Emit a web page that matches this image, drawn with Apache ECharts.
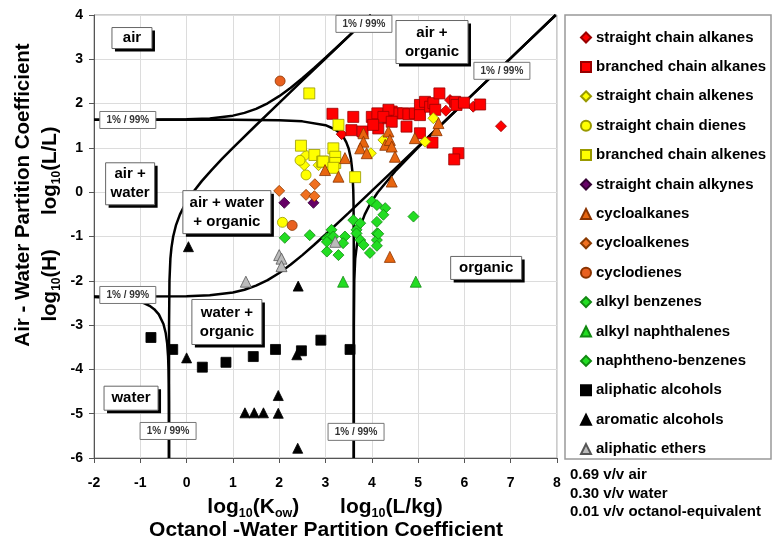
<!DOCTYPE html>
<html><head><meta charset="utf-8">
<script src="https://cdn.jsdelivr.net/npm/echarts@6/dist/echarts.min.js"></script>
<style>html,body{margin:0;padding:0;background:#fff}#c{width:775px;height:542px}</style>
</head><body><div id="c"></div>
<script>
// ---------------- data (x = log10 Kow, y = log10 H) ----------------
const xTicks = [-2,-1,0,1,2,3,4,5,6,7,8];
const yTicks = [-6,-5,-4,-3,-2,-1,0,1,2,3,4];

const straightAlkanes = [[3.35,1.31],[5.60,1.84],[5.69,2.08],[6.19,1.93],[6.79,1.49]];
const branchedAlkanes = [[3.15,1.77],[3.60,1.70],[3.56,1.40],[3.80,1.37],[4.00,1.70],[4.12,1.78],[4.14,1.44],
  [4.36,1.67],[4.43,1.82],[4.54,1.78],[4.68,1.78],[4.79,1.76],[4.75,1.48],[4.93,1.78],[5.04,1.97],[5.04,1.74],
  [5.15,2.04],[5.26,1.93],[5.33,2.01],[5.37,1.86],[5.46,2.23],[5.80,2.04],[5.83,1.97],[5.99,2.02],[6.34,1.98],
  [5.04,1.33],[5.31,1.12],[5.87,0.88],[5.78,0.74],[4.36,1.86],[4.25,1.70],[4.43,1.59],[4.03,1.52]];
const straightAlkenes = [[2.58,0.84],[2.54,0.61],[2.85,0.61],[3.98,0.88],[4.25,1.18],[5.15,1.14],[5.33,1.67]];
const straightDienes = [[2.58,0.39],[2.07,-0.68],[2.45,0.72]];
const branchedAlkenes = [[2.65,2.23],[2.47,1.05],[2.76,0.84],[2.93,0.69],[3.28,1.52],[3.17,0.99],[3.21,0.80],
  [3.21,0.66],[2.95,0.69],[3.17,0.55],[3.64,0.34]];
const straightAlkynes = [[2.11,-0.24],[2.74,-0.24]];
const cycloalkanes = [[2.99,0.50],[3.28,0.35],[3.42,0.77],[3.82,1.33],[3.82,1.14],[3.75,0.99],[3.89,0.88],
  [4.36,1.37],[4.29,1.07],[4.39,1.18],[4.43,1.03],[4.50,0.80],[4.93,1.22],[5.40,1.40],[5.44,1.56],[4.43,0.24],[4.39,-1.46]];
const cycloalkenes = [[2.00,0.03],[2.58,-0.06],[2.76,-0.09],[2.77,0.18]];
const cyclodienes = [[2.02,2.51],[2.28,-0.75]];
const alkylBenzenes = [[2.12,-1.03],[2.66,-0.97],[3.03,-1.04],[3.03,-1.34],[3.10,-1.00],[3.13,-0.85],[3.17,-1.00],
  [3.03,-1.12],[3.28,-1.42],[3.42,-1.00],[3.38,-1.15],[3.67,-0.85],[3.67,-0.93],[3.75,-1.08],[3.82,-1.19],
  [4.00,-0.21],[4.11,-0.29],[4.29,-0.36],[4.11,-0.67],[4.11,-0.93],[4.11,-1.08],[4.14,-0.94],[4.90,-0.55]];
const alkylNaphthalenes = [[3.38,-2.02],[4.95,-2.02]];
const napthenoBenzenes = [[3.60,-0.63],[3.75,-0.70],[4.25,-0.51],[4.11,-1.21],[3.96,-1.37]];
const aliphaticAlcohols = [[-0.77,-3.28],[-0.30,-3.55],[0.34,-3.95],[0.85,-3.84],[1.44,-3.71],[1.92,-3.55],
  [2.48,-3.58],[2.90,-3.34],[3.53,-3.55]];
const aromaticAlcohols = [[0.04,-1.23],[0.00,-3.74],[1.26,-4.98],[1.46,-4.98],[1.66,-4.98],[1.98,-4.59],
  [1.98,-4.99],[2.40,-5.78],[2.41,-2.12],[2.38,-3.67]];
const aliphaticEthers = [[1.28,-2.02],[2.00,-1.42],[2.05,-1.50],[2.05,-1.67],[3.21,-1.12]];

// 1% / 99% boundary curves
const airHigh = [[-2,1.634],[-1,1.635],[0,1.644],[0.5,1.666],[1,1.728],[1.25,1.790],[1.5,1.881],[1.75,2.007],
  [2,2.168],[2.25,2.359],[2.5,2.572],[2.75,2.799],[3,3.036],[3.25,3.278],[3.5,3.524],[3.75,3.772],[3.98,4.0]];
const airLow = [[-2,-2.357],[0,-2.347],[0.5,-2.325],[1,-2.263],[1.25,-2.202],[1.5,-2.110],[1.75,-1.984],
  [2,-1.823],[2.25,-1.632],[2.5,-1.420],[2.75,-1.192],[3,-0.955],[3.5,-0.467],[4,0.029],[4.5,0.528],
  [5,1.027],[6,2.027],[7,3.027],[7.973,4]];
const waterHigh = [[-2,-2.368],[-1.5,-2.392],[-1.25,-2.420],[-1,-2.477],[-0.9,-2.513],[-0.8,-2.565],[-0.7,-2.640],
  [-0.6,-2.758],[-0.5,-2.975],[-0.45,-3.185],[-0.42,-3.413],[-0.40,-3.705],[-0.39,-4.002],[-0.385,-4.30],
  [-0.382,-4.71],[-0.381,-5.02],[-0.3801,-6]];
const waterLow = [[-2,1.634],[0,1.634],[1,1.633],[2,1.623],[2.5,1.599],[3,1.512],[3.2,1.421],[3.3,1.343],
  [3.4,1.220],[3.45,1.125],[3.5,0.988],[3.55,0.752],[3.58,0.475],[3.6,0.042],[3.605,-0.213],[3.6102,-1],
  [3.6111,-2],[3.6112,-6]];
const organicHigh = [[3.6112,-6],[3.6122,-3],[3.6211,-2],[3.6417,-1.5],[3.7011,-1],[3.7601,-0.75],[3.8486,-0.5],
  [3.9717,-0.25],[4.1297,0],[4.5289,0.5],[4.9914,1],[5.4789,1.5],[5.9749,2],[6.4736,2.5],[6.9732,3],[7.4730,3.5],[7.9730,4]];
const organicLow = [[-0.380,-6],[-0.379,-3],[-0.370,-2],[-0.350,-1.5],[-0.327,-1.25],[-0.290,-1],[-0.231,-0.75],
  [-0.143,-0.5],[-0.020,-0.25],[0.139,0],[0.327,0.25],[0.538,0.5],[0.764,0.75],[1.0,1],[1.488,1.5],[1.984,2],
  [2.482,2.5],[2.982,3],[3.482,3.5],[3.982,4]];

const regionLabels = [
  {t:'air', at:[-1.18,3.48], w:40, h:21},
  {t:'air +\nwater', at:[-1.22,0.19], w:49, h:42},
  {t:'air + water\n+ organic', at:[0.87,-0.45], w:88, h:43},
  {t:'air +\norganic', at:[5.30,3.39], w:72, h:43},
  {t:'water +\norganic', at:[0.87,-2.93], w:70, h:45},
  {t:'water', at:[-1.20,-4.65], w:54, h:24},
  {t:'organic', at:[6.47,-1.71], w:71, h:23}
];
const pctLabels = [[3.83,3.80],[6.81,2.74],[-1.27,1.63],[-1.27,-2.32],[-0.40,-5.39],[3.66,-5.41]];
const volumeText = ['0.69 v/v air','0.30 v/v water','0.01 v/v octanol-equivalent'];

// ---------------- chart ----------------
const FONT = '"Liberation Sans", Arial, Helvetica, sans-serif';
const chart = echarts.init(document.getElementById('c'));

function sc(name, data, symbol, color, border, size) {
  return {name, type:'scatter', data, symbol, symbolSize:size, z:5,
    itemStyle:{color, borderColor:border, borderWidth:0.8, opacity:1},
    emphasis:{disabled:true}};
}
function curve(data) {
  return {type:'line', data, showSymbol:false, symbol:'none', silent:true, z:3,
    lineStyle:{color:'#000', width:2.5}, clip:true};
}
const scatterSeries = [
  sc('straight chain alkanes', straightAlkanes, 'diamond', '#ff0000', '#990000', 11),
  sc('branched chain alkanes', branchedAlkanes, 'rect', '#ff0000', '#990000', 11),
  sc('straight chain alkenes', straightAlkenes, 'diamond', '#ffff00', '#999900', 11),
  sc('straight chain dienes', straightDienes, 'circle', '#ffff00', '#999900', 10),
  sc('branched chain alkenes', branchedAlkenes, 'rect', '#ffff00', '#999900', 11),
  sc('straight chain alkynes', straightAlkynes, 'diamond', '#660066', '#330033', 11),
  sc('cycloalkanes', cycloalkanes, 'triangle', '#e8650f', '#8a3300', 11),
  sc('cycloalkenes', cycloalkenes, 'diamond', '#f07020', '#8a3a00', 11),
  sc('cyclodienes', cyclodienes, 'circle', '#e86020', '#8a3300', 10),
  sc('alkyl benzenes', alkylBenzenes, 'diamond', '#22dd22', '#118811', 11),
  sc('alkyl naphthalenes', alkylNaphthalenes, 'triangle', '#22dd22', '#118811', 11),
  sc('naphtheno-benzenes', napthenoBenzenes, 'diamond', '#22dd22', '#118811', 11),
  sc('aliphatic alcohols', aliphaticAlcohols, 'rect', '#000000', '#000000', 10),
  sc('aromatic alcohols', aromaticAlcohols, 'triangle', '#000000', '#000000', 10),
  sc('aliphatic ethers', aliphaticEthers, 'triangle', '#bbbbbb', '#555555', 11)
];
const curves = [airHigh, airLow, waterHigh, waterLow, organicHigh, organicLow].map(curve);

const staticGraphics = [
  {type:'rect', z:1, shape:{x:565, y:15, width:206, height:444}, style:{fill:'#fff', stroke:'#999', lineWidth:1.5}},
  ...volumeText.map((t,i)=>({type:'text', z:100, x:570, y:475+i*18.5,
     style:{text:t, font:'bold 15px '+FONT, fill:'#000', textAlign:'left', textVerticalAlign:'middle'}})),
  {type:'text', z:100, x:23, y:195, rotation:Math.PI/2,
     style:{text:'Air - Water Partition Coefficient', font:'bold 20.5px '+FONT, fill:'#000', textAlign:'center', textVerticalAlign:'middle'}},
  {type:'text', z:100, x:50, y:224, rotation:Math.PI/2,
     style:{text:'{a|log}{s|10}{a|(H)      log}{s|10}{a|(L/L)}', textAlign:'center', textVerticalAlign:'middle', fill:'#000',
       rich:{a:{fontSize:20.5, fontWeight:'bold', fontFamily:FONT, fill:'#000', lineHeight:26, verticalAlign:'middle'},
             s:{fontSize:12, fontWeight:'bold', fontFamily:FONT, fill:'#000', lineHeight:26, verticalAlign:'bottom'}}}},
  {type:'text', z:100, x:325, y:507,
     style:{text:'{a|log}{s|10}{a|(K}{s|ow}{a|)       log}{s|10}{a|(L/kg)}', textAlign:'center', textVerticalAlign:'middle', fill:'#000',
       rich:{a:{fontSize:21, fontWeight:'bold', fontFamily:FONT, fill:'#000', lineHeight:26, verticalAlign:'middle'},
             s:{fontSize:12.5, fontWeight:'bold', fontFamily:FONT, fill:'#000', lineHeight:26, verticalAlign:'bottom'}}}},
  {type:'text', z:100, x:326, y:530,
     style:{text:'Octanol -Water Partition Coefficient', font:'bold 21px '+FONT, fill:'#000', textAlign:'center', textVerticalAlign:'middle'}}
];

const option = {
  backgroundColor:'#fff',
  animation:false,
  grid:{left:94, top:15, width:463, height:443, show:true, borderColor:'#999', borderWidth:1, backgroundColor:'transparent'},
  xAxis:{type:'value', min:xTicks[0], max:xTicks[xTicks.length-1], interval:1,
    axisLine:{onZero:false, lineStyle:{color:'#555', width:1}},
    axisTick:{show:true, length:5, lineStyle:{color:'#555'}},
    splitLine:{show:true, lineStyle:{color:'#dcdcdc', width:1}},
    axisLabel:{margin:18, fontFamily:FONT, fontSize:14, fontWeight:'bold', color:'#000'}},
  yAxis:{type:'value', min:yTicks[0], max:yTicks[yTicks.length-1], interval:1,
    axisLine:{onZero:false, lineStyle:{color:'#555', width:1}},
    axisTick:{show:true, length:5, lineStyle:{color:'#555'}},
    splitLine:{show:true, lineStyle:{color:'#dcdcdc', width:1}},
    axisLabel:{margin:11, fontFamily:FONT, fontSize:14, fontWeight:'bold', color:'#000'}},
  legend:{orient:'vertical', left:575, top:25, itemWidth:10, itemHeight:10, itemGap:14.4, selectedMode:false,
    data:scatterSeries.map(s=>s.name),
    textStyle:{fontFamily:FONT, fontSize:15, fontWeight:'bold', color:'#000', lineHeight:15}},
  series:[...curves, ...scatterSeries],
  graphic:{elements:staticGraphics}
};
chart.setOption(option);

// annotation boxes anchored in data coordinates
const ann = [];
regionLabels.forEach(r=>{
  const p = chart.convertToPixel({gridIndex:0}, r.at);
  ann.push({type:'group', x:p[0], y:p[1], z:100, children:[
    {type:'rect', z:100, shape:{x:-r.w/2+3, y:-r.h/2+3, width:r.w, height:r.h}, style:{fill:'#000'}},
    {type:'rect', z:101, shape:{x:-r.w/2, y:-r.h/2, width:r.w, height:r.h}, style:{fill:'#fff', stroke:'#666', lineWidth:1}},
    {type:'text', z:102, x:0, y:0, style:{text:r.t, font:'bold 15px '+FONT, fill:'#000', lineHeight:19,
      textAlign:'center', textVerticalAlign:'middle'}}
  ]});
});
pctLabels.forEach(c=>{
  const p = chart.convertToPixel({gridIndex:0}, c);
  ann.push({type:'group', x:p[0], y:p[1], z:100, children:[
    {type:'rect', z:100, shape:{x:-28, y:-8.5, width:56, height:17}, style:{fill:'#fff', stroke:'#777', lineWidth:1}},
    {type:'text', z:101, x:0, y:0, style:{text:'1% / 99%', font:'bold 10px '+FONT, fill:'#333',
      textAlign:'center', textVerticalAlign:'middle'}}
  ]});
});
chart.setOption({graphic:{elements:staticGraphics.concat(ann)}});
</script></body></html>
